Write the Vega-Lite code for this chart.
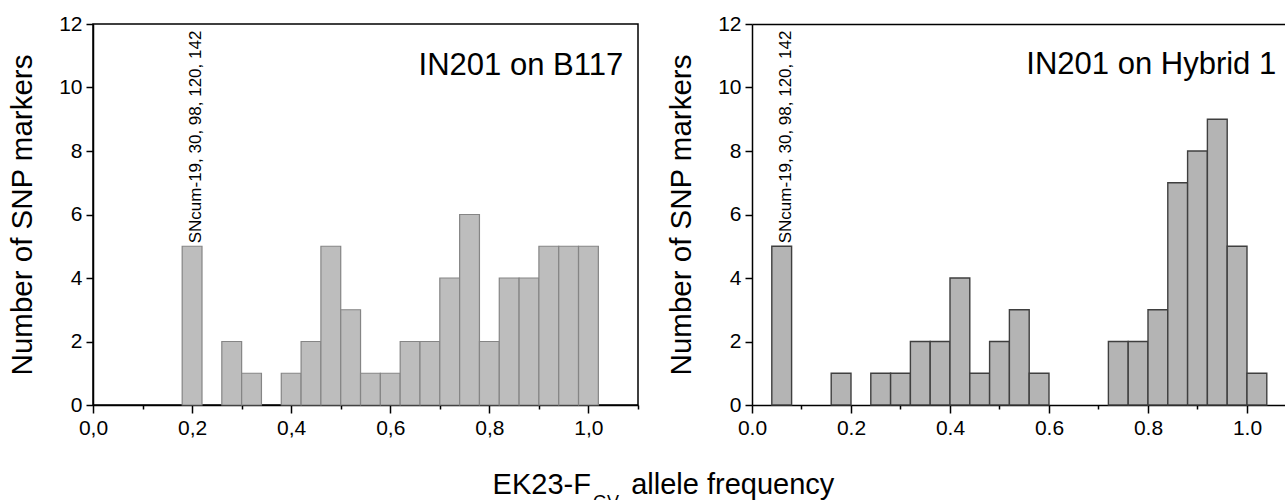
{
  "$schema": "https://vega.github.io/schema/vega-lite/v6.json",
  "padding": {"left": 6, "top": 12, "right": 0, "bottom": -11},
  "background": "white",
  "config": {
    "font": "Liberation Sans",
    "axis": {"labelFont": "Liberation Sans", "titleFont": "Liberation Sans", "labelColor": "black", "titleColor": "black", "domainColor": "black", "tickColor": "black", "domainWidth": 1.5, "tickWidth": 1.5, "grid": false, "labelOverlap": false, "labelFlush": false},
    "view": {"stroke": null}
  },
  "datasets": {
    "b117": [
      {"start": 0.18, "end": 0.22, "n": 5},
      {"start": 0.26, "end": 0.30, "n": 2},
      {"start": 0.30, "end": 0.34, "n": 1},
      {"start": 0.38, "end": 0.42, "n": 1},
      {"start": 0.42, "end": 0.46, "n": 2},
      {"start": 0.46, "end": 0.50, "n": 5},
      {"start": 0.50, "end": 0.54, "n": 3},
      {"start": 0.54, "end": 0.58, "n": 1},
      {"start": 0.58, "end": 0.62, "n": 1},
      {"start": 0.62, "end": 0.66, "n": 2},
      {"start": 0.66, "end": 0.70, "n": 2},
      {"start": 0.70, "end": 0.74, "n": 4},
      {"start": 0.74, "end": 0.78, "n": 6},
      {"start": 0.78, "end": 0.82, "n": 2},
      {"start": 0.82, "end": 0.86, "n": 4},
      {"start": 0.86, "end": 0.90, "n": 4},
      {"start": 0.90, "end": 0.94, "n": 5},
      {"start": 0.94, "end": 0.98, "n": 5},
      {"start": 0.98, "end": 1.02, "n": 5}
    ],
    "hybrid": [
      {"start": 0.04, "end": 0.08, "n": 5},
      {"start": 0.16, "end": 0.20, "n": 1},
      {"start": 0.24, "end": 0.28, "n": 1},
      {"start": 0.28, "end": 0.32, "n": 1},
      {"start": 0.32, "end": 0.36, "n": 2},
      {"start": 0.36, "end": 0.40, "n": 2},
      {"start": 0.40, "end": 0.44, "n": 4},
      {"start": 0.44, "end": 0.48, "n": 1},
      {"start": 0.48, "end": 0.52, "n": 2},
      {"start": 0.52, "end": 0.56, "n": 3},
      {"start": 0.56, "end": 0.60, "n": 1},
      {"start": 0.72, "end": 0.76, "n": 2},
      {"start": 0.76, "end": 0.80, "n": 2},
      {"start": 0.80, "end": 0.84, "n": 3},
      {"start": 0.84, "end": 0.88, "n": 7},
      {"start": 0.88, "end": 0.92, "n": 8},
      {"start": 0.92, "end": 0.96, "n": 9},
      {"start": 0.96, "end": 1.00, "n": 5},
      {"start": 1.00, "end": 1.04, "n": 1}
    ],
    "noteB117": [{"freq": 0.2, "n": 5, "note": "SNcum-19, 30, 98, 120, 142"}],
    "noteHybrid": [{"freq": 0.06, "n": 5, "note": "SNcum-19, 30, 98, 120, 142"}]
  },
  "title": {
    "text": "EK23-F\u00a0\u00a0\u00a0\u00a0 allele frequency",
    "subtitle": "GV\u00a0\u00a0\u00a0\u00a0\u00a0\u00a0\u00a0\u00a0\u00a0\u00a0\u00a0\u00a0\u00a0\u00a0\u00a0\u00a0\u00a0\u00a0\u00a0\u00a0\u00a0\u00a0\u00a0\u200b",
    "orient": "bottom",
    "anchor": "middle",
    "font": "Liberation Sans",
    "fontSize": 29,
    "fontWeight": "normal",
    "color": "black",
    "subtitleFont": "Liberation Sans",
    "subtitleFontSize": 18,
    "subtitleColor": "black",
    "subtitlePadding": -6,
    "offset": 32,
    "dx": 17
  },
  "hconcat": [
    {
      "width": 545,
      "height": 381,
      "view": {"stroke": "black", "strokeWidth": 1.5},
      "layer": [
        {
          "data": {"name": "b117"},
          "mark": {"type": "bar", "fill": "#bdbdbd", "stroke": "#858585", "strokeWidth": 1.2},
          "encoding": {
            "x": {"field": "start", "type": "quantitative", "scale": {"domain": [0, 1.1], "nice": false, "zero": false},
              "axis": {"title": null, "values": [0, 0.1, 0.2, 0.3, 0.4, 0.5, 0.6, 0.7, 0.8, 0.9, 1.0, 1.1],
                "tickSize": {"condition": {"test": "round(datum.value*10) % 2 == 0", "value": 8}, "value": 4},
                "labelExpr": "round(datum.value*10) % 2 == 0 ? replace(format(datum.value, '.1f'), '.', ',') : ''",
                "labelFontSize": 21, "labelPadding": 4}},
            "x2": {"field": "end"},
            "y": {"field": "n", "type": "quantitative", "scale": {"domain": [0, 12], "nice": false},
              "axis": {"title": "Number of SNP markers", "titleFontSize": 29.5, "titleFontWeight": "normal", "titlePadding": 21,
                "values": [0, 1, 2, 3, 4, 5, 6, 7, 8, 9, 10, 11, 12],
                "tickSize": {"condition": {"test": "datum.value % 2 == 0", "value": 7}, "value": 4},
                "labelExpr": "datum.value % 2 == 0 ? datum.label : ''",
                "labelFontSize": 21, "labelPadding": 4}},
            "y2": {"datum": 0}
          }
        },
        {
          "data": {"name": "noteB117"},
          "mark": {"type": "text", "angle": 270, "align": "left", "baseline": "middle", "fontSize": 17, "font": "Liberation Sans", "color": "black", "dx": 3, "dy": 4},
          "encoding": {
            "x": {"field": "freq", "type": "quantitative"},
            "y": {"field": "n", "type": "quantitative"},
            "text": {"field": "note"}
          }
        },
        {
          "data": {"values": [{"label": "IN201 on B117"}]},
          "mark": {"type": "text", "align": "right", "baseline": "alphabetic", "fontSize": 31, "font": "Liberation Sans", "color": "black"},
          "encoding": {
            "x": {"datum": 1.07, "type": "quantitative"},
            "y": {"datum": 10.4, "type": "quantitative"},
            "text": {"field": "label"}
          }
        }
      ]
    },
    {
      "width": 534,
      "height": 381,
      "layer": [
        {
          "data": {"name": "hybrid"},
          "mark": {"type": "bar", "fill": "#b4b4b4", "stroke": "#3f3f3f", "strokeWidth": 1.4},
          "encoding": {
            "x": {"field": "start", "type": "quantitative", "scale": {"domain": [0, 1.0788], "nice": false, "zero": false},
              "axis": {"title": null, "values": [0, 0.1, 0.2, 0.3, 0.4, 0.5, 0.6, 0.7, 0.8, 0.9, 1.0],
                "tickSize": {"condition": {"test": "round(datum.value*10) % 2 == 0", "value": 8}, "value": 4},
                "labelExpr": "round(datum.value*10) % 2 == 0 ? format(datum.value, '.1f') : ''",
                "labelFontSize": 21, "labelPadding": 4}},
            "x2": {"field": "end"},
            "y": {"field": "n", "type": "quantitative", "scale": {"domain": [0, 12], "nice": false},
              "axis": {"title": "Number of SNP markers", "titleFontSize": 29.5, "titleFontWeight": "normal", "titlePadding": 21,
                "values": [0, 1, 2, 3, 4, 5, 6, 7, 8, 9, 10, 11, 12],
                "tickSize": {"condition": {"test": "datum.value % 2 == 0", "value": 7}, "value": 4},
                "labelExpr": "datum.value % 2 == 0 ? datum.label : ''",
                "labelFontSize": 21, "labelPadding": 4}},
            "y2": {"datum": 0}
          }
        },
        {
          "data": {"name": "noteHybrid"},
          "mark": {"type": "text", "angle": 270, "align": "left", "baseline": "middle", "fontSize": 17, "font": "Liberation Sans", "color": "black", "dx": 3, "dy": 4},
          "encoding": {
            "x": {"field": "freq", "type": "quantitative", "axis": {"orient": "top", "title": null, "labels": false, "ticks": false, "domain": true}},
            "y": {"field": "n", "type": "quantitative"},
            "text": {"field": "note"}
          }
        },
        {
          "data": {"values": [{"label": "IN201 on Hybrid 1"}]},
          "mark": {"type": "text", "align": "right", "baseline": "alphabetic", "fontSize": 31, "font": "Liberation Sans", "color": "black"},
          "encoding": {
            "x": {"datum": 1.059, "type": "quantitative", "axis": null},
            "y": {"datum": 10.41, "type": "quantitative"},
            "text": {"field": "label"}
          }
        }
      ],
      "resolve": {"axis": {"x": "independent"}}
    }
  ],
  "spacing": 114,
  "bounds": "flush"
}
